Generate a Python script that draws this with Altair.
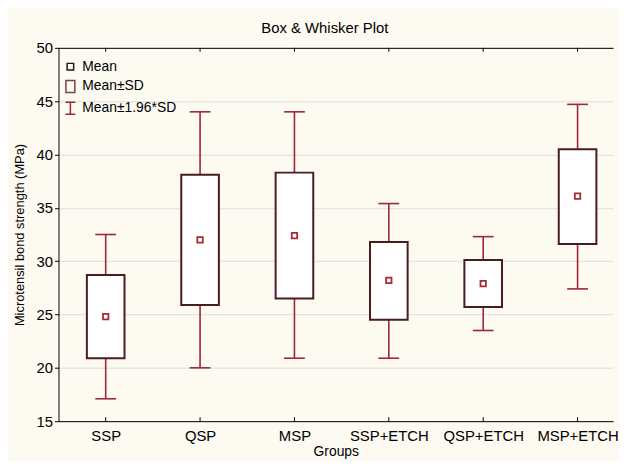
import altair as alt
import pandas as pd

groups = ["SSP", "QSP", "MSP", "SSP+ETCH", "QSP+ETCH", "MSP+ETCH"]
means = [24.8, 32.0, 32.4, 28.2, 27.9, 36.1]
sd_low = [20.9, 25.9, 26.5, 24.5, 25.7, 31.6]
sd_high = [28.7, 38.1, 38.3, 31.8, 30.1, 40.5]
ci_low = [17.1, 20.0, 20.9, 20.9, 23.5, 27.4]
ci_high = [32.5, 44.0, 44.0, 35.4, 32.3, 44.7]
y_ticks = [15, 20, 25, 30, 35, 40, 45, 50]
legend_items = ["Mean", "Mean\u00b1SD", "Mean\u00b11.96*SD"]

df = pd.DataFrame({
    "idx": list(range(1, len(groups) + 1)),
    "group": groups,
    "mean": means,
    "sd_low": sd_low,
    "sd_high": sd_high,
    "ci_low": ci_low,
    "ci_high": ci_high,
})
leg_df = pd.DataFrame({"item": legend_items})

FONT = "Liberation Sans"
BOX = "#4a1c20"
WH = "#a02535"
MEAN = "#a52a35"

xscale = alt.Scale(domain=[0.5, 6.376], nice=False, zero=False, padding=0)
yscale = alt.Scale(domain=[15, 50], nice=False, zero=False, padding=0)

label_expr = "[" + ",".join("'" + g + "'" for g in groups) + "][datum.value - 1]"

bottom_axis = alt.Axis(
    orient="bottom", values=list(range(1, len(groups) + 1)), labelExpr=label_expr,
    ticks=False, tickSize=0, labelPadding=8, grid=False, domainColor="black",
    labelFontSize=15, labelFont=FONT, labelColor="black",
    title="Groups", titleFontSize=14, titleFont=FONT, titleFontWeight="normal",
    titleColor="black", titlePadding=1, labelFlush=False, labelOverlap=False,
)
top_axis = alt.Axis(orient="top", labels=False, ticks=False, grid=False,
                    domainColor="black", title=None)
left_axis = alt.Axis(
    orient="left", values=y_ticks, tickSize=4, tickColor="black", labelPadding=2,
    domainColor="black", gridColor="#dedede", grid=True,
    labelFontSize=15, labelFont=FONT, labelColor="black",
    title="Microtensil bond strength (MPa)", titleFontSize=13, titleFont=FONT,
    titleFontWeight="normal", titleColor="black", titlePadding=10,
)


def X(axis=bottom_axis):
    return alt.X("idx:Q", scale=xscale, axis=axis)


def Y(field):
    return alt.Y(field + ":Q", scale=yscale, axis=left_axis)


base = alt.Chart(df)

whisk = base.mark_rule(color=WH, strokeWidth=1.6).encode(
    x=X(), y=Y("ci_low"), y2="ci_high")
cap_lo = base.mark_rule(color=WH, strokeWidth=1.6, xOffset=-10.5, x2Offset=10.5).encode(
    x=X(), x2="idx", y=Y("ci_low"))
cap_hi = base.mark_rule(color=WH, strokeWidth=1.6, xOffset=-10.5, x2Offset=10.5).encode(
    x=X(), x2="idx", y=Y("ci_high"))
box = base.mark_bar(size=38, fill="white", stroke=BOX, strokeWidth=2).encode(
    x=X(), y=Y("sd_low"), y2="sd_high")
mean = base.mark_point(shape="square", filled=False, size=30, strokeWidth=1.8,
                       color=MEAN, opacity=1).encode(x=X(), y=Y("mean"))
bot_ticks = base.mark_rule(color="black", strokeWidth=1).encode(
    x=X(), y=alt.value(373), y2=alt.value(377))
top_ticks = base.mark_rule(color="black", strokeWidth=1).encode(
    x=X(top_axis), y=alt.value(0), y2=alt.value(4))

legend = alt.Legend(
    orient="none", legendX=5, legendY=12, title=None, padding=0,
    symbolSize=144, symbolStrokeWidth=1.5, symbolOpacity=1,
    labelFont=FONT, labelFontSize=14, labelColor="black", labelOffset=5,
    rowPadding=4,
)
paths = [
    "M-0.55,-0.55H0.55V0.55H-0.55Z",
    "M-0.75,-1H0.75V1H-0.75Z",
    "M-0.83,-1H0.83M0,-1V1M-0.83,1H0.83",
]
leg_layer = alt.Chart(leg_df).mark_point(filled=False, opacity=0).encode(
    color=alt.Color("item:N", scale=alt.Scale(domain=legend_items,
                                              range=["#1a1a1a", "#7a4545", WH]),
                    legend=legend),
    shape=alt.Shape("item:N", scale=alt.Scale(domain=legend_items, range=paths),
                    legend=legend),
)

inner = alt.layer(whisk, cap_lo, cap_hi, box, mean, bot_ticks, leg_layer)

chart = alt.layer(inner, top_ticks).properties(
    width=560, height=377,
    padding={"left": 5, "top": 11, "right": 0, "bottom": 0},
    background="#fdfaf2",
    title=alt.TitleParams(text="Box & Whisker Plot", fontSize=15, font=FONT,
                          fontWeight="normal", color="black", anchor="middle",
                          dx=-11, offset=4.5),
).configure_view(fill="white", stroke=None)

chart.save("out.html", embed_options={"renderer": "svg", "actions": False})
